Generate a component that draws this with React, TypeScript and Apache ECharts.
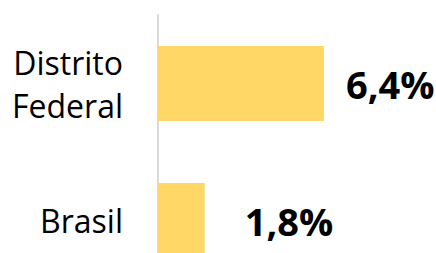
import React, { useEffect, useRef } from "react";
import * as echarts from "echarts";

const categories = ["Distrito\nFederal", "Brasil"];
const values = [6.4, 1.8];
const valueLabels = ["6,4%", "1,8%"];
const labelDistances = [22, 40];

export default function App() {
  const ref = useRef<HTMLDivElement>(null);
  useEffect(() => {
    if (!ref.current) return;
    const chart = echarts.init(ref.current, null, { renderer: "svg" });
    chart.setOption({
      animation: false,
      backgroundColor: "#ffffff",
      grid: { left: 158, top: 15, width: 259.4, height: 274, containLabel: false },
      xAxis: { type: "value", min: 0, max: 10, show: false },
      yAxis: {
        type: "category",
        inverse: true,
        data: categories,
        axisLine: { show: true, lineStyle: { color: "#D9D9D9", width: 2 } },
        axisTick: { show: false },
        axisLabel: {
          margin: 35,
          fontFamily: "Open Sans",
          fontSize: 32,
          lineHeight: 43,
          color: "#000000",
          align: "right",
        },
      },
      series: [
        {
          type: "bar",
          barWidth: 75,
          itemStyle: { color: "#FED766" },
          data: values.map((v, i) => ({
            value: v,
            label: {
              show: true,
              position: "right",
              distance: labelDistances[i],
              formatter: valueLabels[i],
              fontFamily: "Open Sans",
              fontWeight: "bold",
              fontSize: 38,
              color: "#000000",
            },
          })),
        },
      ],
    });
    return () => chart.dispose();
  }, []);
  return (
    <div style={{ position: "absolute", left: 0, top: 0, width: 436, height: 253, overflow: "hidden" }}>
      <div ref={ref} style={{ width: 436, height: 289 }} />
    </div>
  );
}
